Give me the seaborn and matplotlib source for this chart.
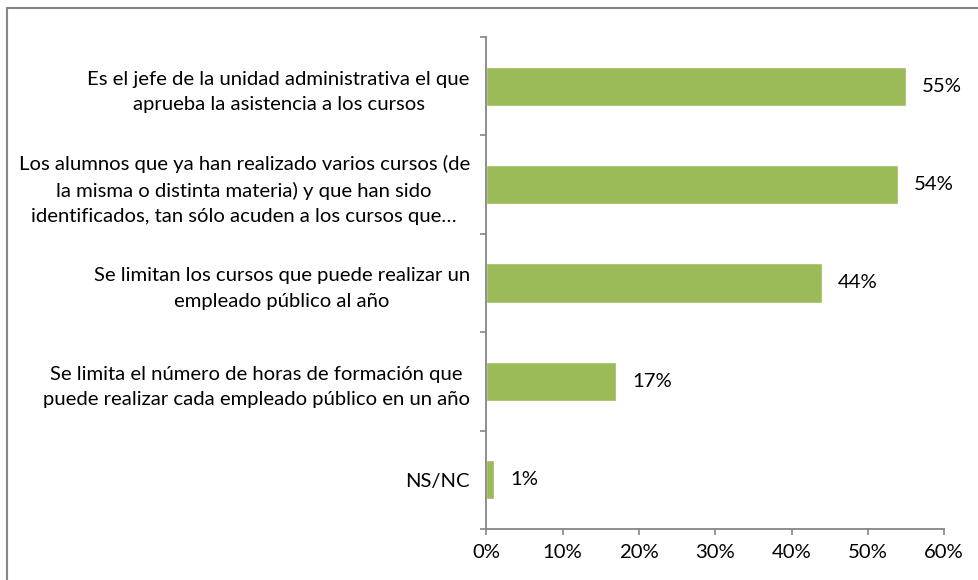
import numpy as np
import pandas as pd
import matplotlib
matplotlib.use('Agg')
import matplotlib.pyplot as plt
import seaborn as sns
from matplotlib.patches import Rectangle
from matplotlib.ticker import FuncFormatter, FixedLocator

# datos
etiquetas = [
    'Es el jefe de la unidad administrativa el que\naprueba la asistencia a los cursos',
    'Los alumnos que ya han realizado varios cursos (de\nla misma o distinta materia) y que han sido\nidentificados, tan sólo acuden a los cursos que…',
    'Se limitan los cursos que puede realizar un\nempleado público al año',
    'Se limita el número de horas de formación que\npuede realizar cada empleado público en un año',
    'NS/NC',
]
valores = [55, 54, 44, 17, 1]
xticks = [0, 10, 20, 30, 40, 50, 60]

df = pd.DataFrame({'Motivo': etiquetas, 'Porcentaje': valores})

sns.set_style("white")
plt.rcParams['font.family'] = ['Lato', 'DejaVu Sans']
FS = 14.6
GRIS = '#868686'
VERDE = '#9BBB59'

fig = plt.figure(figsize=(9.79, 5.80), dpi=100)
ax = fig.add_axes([486.5 / 979, 51 / 580, 457.5 / 979, 492 / 580])

sns.barplot(data=df, x='Porcentaje', y='Motivo', orient='h', color=VERDE,
            width=0.4, saturation=1, ax=ax)

ax.set_xlim(0, 60)
ax.set_ylim(4.5, -0.5)
ax.set_xticks(xticks)
ax.xaxis.set_major_formatter(FuncFormatter(lambda v, p: f'{v:.0f}%'))
ax.set_xlabel('')
ax.set_ylabel('')

# marcas entre categorias
ax.yaxis.set_minor_locator(FixedLocator(np.arange(-0.5, 5, 1)))
ax.tick_params(axis='y', which='major', length=0, pad=12, labelsize=FS, labelcolor='black')
ax.tick_params(axis='y', which='minor', left=True, length=4.5, width=1.2, color=GRIS)
ax.tick_params(axis='x', which='major', bottom=True, length=4, width=1.2, color=GRIS,
               pad=7, labelsize=FS, labelcolor='black')
for lbl in ax.get_yticklabels():
    lbl.set_linespacing(1.58)
    lbl.set_multialignment('center')

for s in ['top', 'right']:
    ax.spines[s].set_visible(False)
for s in ['left', 'bottom']:
    ax.spines[s].set_color(GRIS)
    ax.spines[s].set_linewidth(1.3)

for i, v in enumerate(valores):
    ax.annotate(f'{v}%', xy=(v, i), xytext=(11.5, 0), textcoords='offset points',
                va='center', ha='left', fontsize=FS, color='black')

# marco de la figura
fig.patches.append(Rectangle((7 / 979, -0.05), 1.1, 1 - 8 / 580 + 0.05,
                             transform=fig.transFigure, fill=False,
                             edgecolor=GRIS, linewidth=1.5, zorder=0))

fig.savefig('out.png', dpi=100)
